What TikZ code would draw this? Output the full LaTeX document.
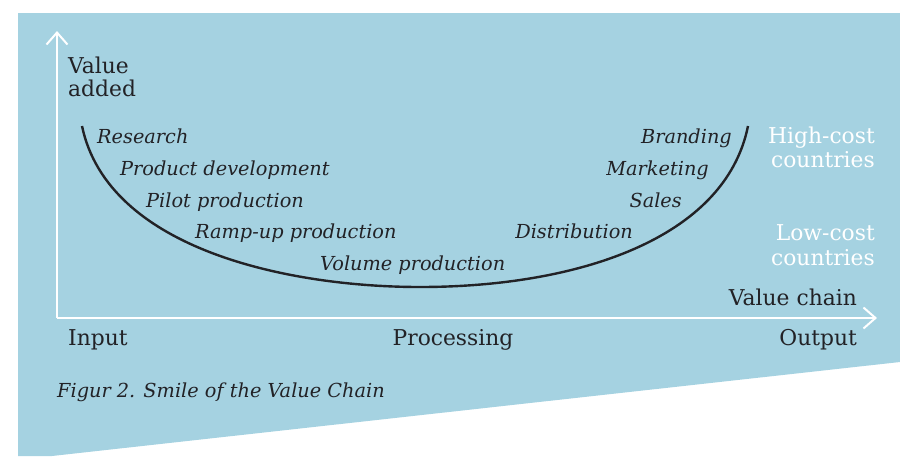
\documentclass[tikz,border=0pt]{standalone}
\usepackage{fontspec}
\setmainfont{DejaVu Serif}
\usetikzlibrary{arrows.meta}
\definecolor{bgblue}{RGB}{165,210,225}
\definecolor{ink}{RGB}{34,34,38}
\tikzset{
  lbl/.style={font=\fontsize{19.3}{22}\selectfont\itshape, text=ink, inner sep=0pt},
  axlbl/.style={font=\fontsize{21.8}{24}\selectfont, text=ink, inner sep=0pt},
  wlbl/.style={font=\fontsize{21.8}{24}\selectfont, text=white, inner sep=0pt, align=right},
  axis/.style={white, line width=2pt, -{Straight Barb[length=12pt,width=21pt,line width=2pt]}},
  smile/.style={ink, line width=2.4pt}
}
\begin{document}
\begin{tikzpicture}[x=1pt,y=-1pt]
\useasboundingbox (0,0) rectangle (900,456);
\fill[bgblue] (18,13) -- (900,13) -- (900,362) -- (52,456) -- (18,456) -- cycle;
% axes
\coordinate (O) at (57,318);
\coordinate (ytip) at (57,31);
\coordinate (xtip) at (877,318);
\draw[axis] (O) -- (ytip);
\draw[axis] (O) -- (xtip);
% smile curve
\coordinate (cl) at (82,126);
\coordinate (cm) at (420,287);
\coordinate (cr) at (748,126);
\draw[smile] (cl) .. controls (108,250) and (290,287) .. (cm)
  .. controls (575,287) and (725,240) .. (cr);
% labels
\node[axlbl, anchor=base west] (va) at (68,73) {Value};
\node[axlbl, anchor=base west] (vb) at (68,96) {added};
\node[lbl, anchor=base west] (l1) at (97,143) {Research};
\node[lbl, anchor=base west] (l2) at (120,175) {Product development};
\node[lbl, anchor=base west] (l3) at (146,207) {Pilot production};
\node[lbl, anchor=base west] (l4) at (195,238) {Ramp-up production};
\node[lbl, anchor=base west] (l5) at (320,270) {Volume production};
\node[lbl, anchor=base east] (r1) at (732,143) {Branding};
\node[lbl, anchor=base east] (r2) at (709,175) {Marketing};
\node[lbl, anchor=base east] (r3) at (682,207) {Sales};
\node[lbl, anchor=base east] (r4) at (633,238) {Distribution};
\node[wlbl, anchor=base east] (h1) at (875,143) {High-cost};
\node[wlbl, anchor=base east] (h2) at (875,167) {countries};
\node[wlbl, anchor=base east] (w1) at (875,240) {Low-cost};
\node[wlbl, anchor=base east] (w2) at (875,265) {countries};
\node[axlbl, anchor=base east] (vc) at (857,305) {Value chain};
\node[axlbl, anchor=base west] (in) at (68,345) {Input};
\node[axlbl, anchor=base] (pr) at (453,345) {Processing};
\node[axlbl, anchor=base east] (out) at (857,345) {Output};
\node[lbl, anchor=base west] (cap) at (57,397) {Figur 2. Smile of the Value Chain};
\end{tikzpicture}
\end{document}
